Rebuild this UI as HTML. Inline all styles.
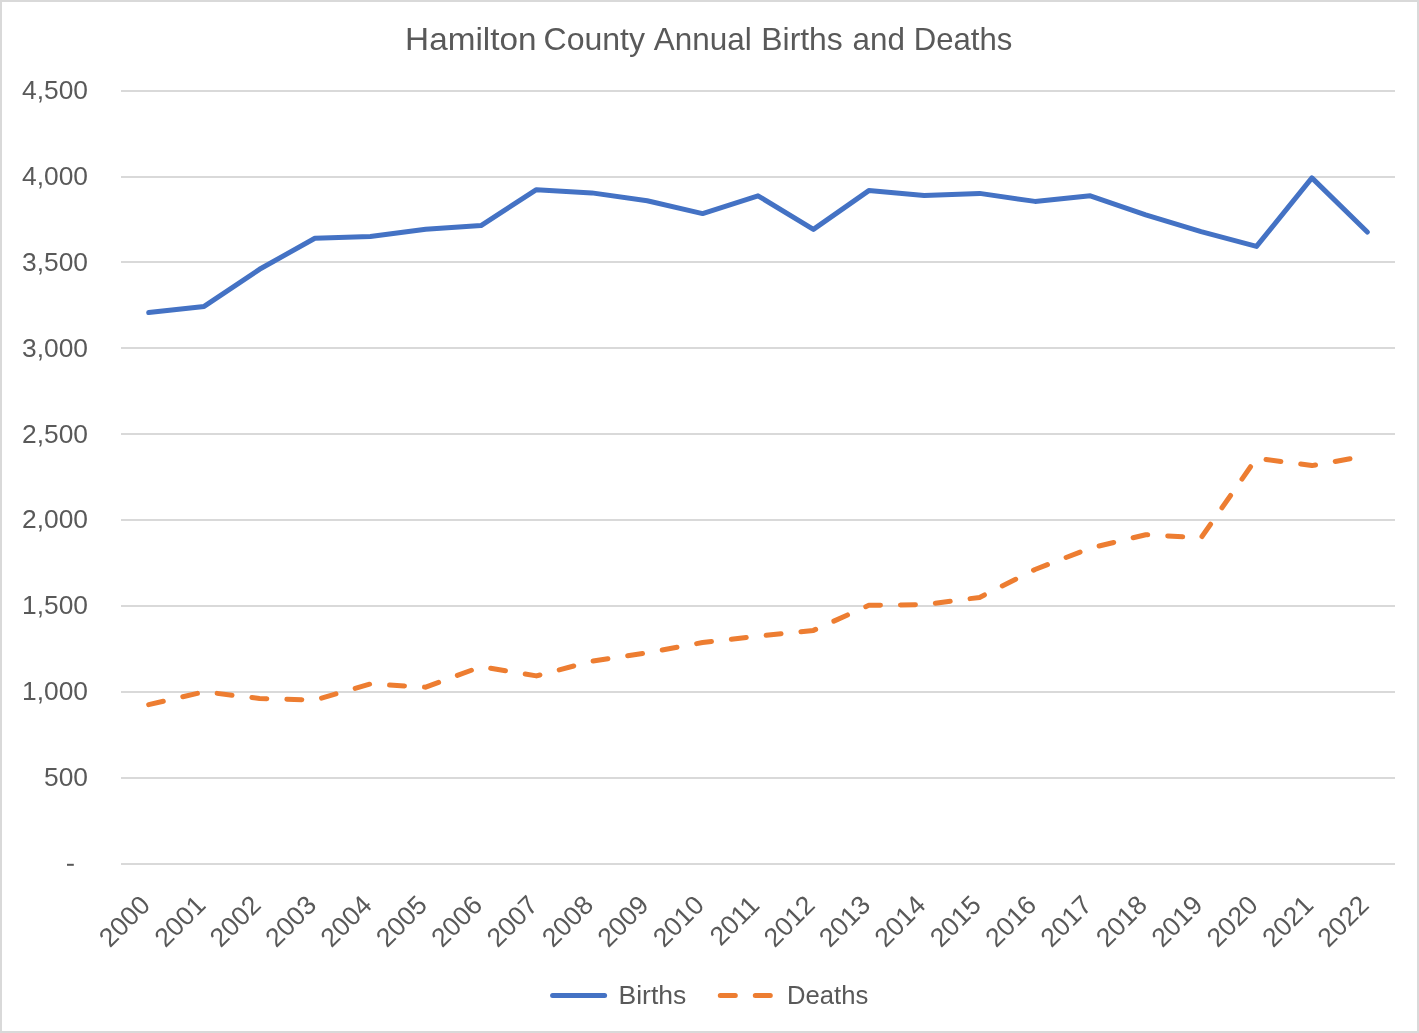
<!DOCTYPE html>
<html><head><meta charset="utf-8"><title>Hamilton County Annual Births and Deaths</title>
<style>
html,body{margin:0;padding:0;background:#fff;}
body{width:1419px;height:1033px;overflow:hidden;font-family:"Liberation Sans",sans-serif;}
svg{display:block;position:absolute;left:0;top:0;opacity:0.999;will-change:transform;}
text{font-family:"Liberation Sans",sans-serif;fill:#595959;}
</style></head><body>
<svg width="1419" height="1033" viewBox="0 0 1419 1033">
<rect x="0" y="0" width="1419" height="1033" fill="#ffffff"/>
<rect x="1" y="1" width="1417" height="1031" fill="none" stroke="#d9d9d9" stroke-width="2"/>
<g fill="#d9d9d9">
<rect x="121" y="863" width="1274" height="2"/>
<rect x="121" y="777" width="1274" height="2"/>
<rect x="121" y="691" width="1274" height="2"/>
<rect x="121" y="605" width="1274" height="2"/>
<rect x="121" y="519" width="1274" height="2"/>
<rect x="121" y="433" width="1274" height="2"/>
<rect x="121" y="347" width="1274" height="2"/>
<rect x="121" y="261" width="1274" height="2"/>
<rect x="121" y="176" width="1274" height="2"/>
<rect x="121" y="90" width="1274" height="2"/>
</g>
<g font-size="26" text-anchor="end">
<rect x="67" y="863.8" width="6.8" height="2" fill="#595959"/>
<text x="88" y="786.10" textLength="43.99" lengthAdjust="spacingAndGlyphs">500</text>
<text x="88" y="700.10" textLength="65.98" lengthAdjust="spacingAndGlyphs">1,000</text>
<text x="88" y="614.10" textLength="65.98" lengthAdjust="spacingAndGlyphs">1,500</text>
<text x="88" y="528.10" textLength="65.98" lengthAdjust="spacingAndGlyphs">2,000</text>
<text x="88" y="443.10" textLength="65.98" lengthAdjust="spacingAndGlyphs">2,500</text>
<text x="88" y="357.10" textLength="65.98" lengthAdjust="spacingAndGlyphs">3,000</text>
<text x="88" y="271.10" textLength="65.98" lengthAdjust="spacingAndGlyphs">3,500</text>
<text x="88" y="185.10" textLength="65.98" lengthAdjust="spacingAndGlyphs">4,000</text>
<text x="88" y="99.10" textLength="65.98" lengthAdjust="spacingAndGlyphs">4,500</text>
</g>
<g font-size="26.5" text-anchor="end">
<text transform="translate(151.7,906.7) rotate(-45)">2000</text>
<text transform="translate(207.1,906.7) rotate(-45)">2001</text>
<text transform="translate(262.5,906.7) rotate(-45)">2002</text>
<text transform="translate(317.9,906.7) rotate(-45)">2003</text>
<text transform="translate(373.3,906.7) rotate(-45)">2004</text>
<text transform="translate(428.7,906.7) rotate(-45)">2005</text>
<text transform="translate(484.0,906.7) rotate(-45)">2006</text>
<text transform="translate(539.4,906.7) rotate(-45)">2007</text>
<text transform="translate(594.8,906.7) rotate(-45)">2008</text>
<text transform="translate(650.2,906.7) rotate(-45)">2009</text>
<text transform="translate(705.6,906.7) rotate(-45)">2010</text>
<text transform="translate(761.0,906.7) rotate(-45)">2011</text>
<text transform="translate(816.4,906.7) rotate(-45)">2012</text>
<text transform="translate(871.8,906.7) rotate(-45)">2013</text>
<text transform="translate(927.2,906.7) rotate(-45)">2014</text>
<text transform="translate(982.6,906.7) rotate(-45)">2015</text>
<text transform="translate(1038.0,906.7) rotate(-45)">2016</text>
<text transform="translate(1093.3,906.7) rotate(-45)">2017</text>
<text transform="translate(1148.7,906.7) rotate(-45)">2018</text>
<text transform="translate(1204.1,906.7) rotate(-45)">2019</text>
<text transform="translate(1259.5,906.7) rotate(-45)">2020</text>
<text transform="translate(1314.9,906.7) rotate(-45)">2021</text>
<text transform="translate(1370.3,906.7) rotate(-45)">2022</text>
</g>
<g font-size="31.2">
<text x="405.1" y="49.5" textLength="131.4" lengthAdjust="spacingAndGlyphs">Hamilton</text>
<text x="543.5" y="49.5" textLength="101.5" lengthAdjust="spacingAndGlyphs">County</text>
<text x="653.8" y="49.5" textLength="98.0" lengthAdjust="spacingAndGlyphs">Annual</text>
<text x="761.3" y="49.5" textLength="81.5" lengthAdjust="spacingAndGlyphs">Births</text>
<text x="852.6" y="49.5" textLength="52.4" lengthAdjust="spacingAndGlyphs">and</text>
<text x="913.7" y="49.5" textLength="98.6" lengthAdjust="spacingAndGlyphs">Deaths</text>
</g>
<polyline points="148.7,312.6 204.1,306.4 259.5,269.3 314.9,238.2 370.3,236.5 425.7,229.3 481.0,225.6 536.4,189.7 591.8,192.9 647.2,200.8 702.6,213.6 758.0,195.8 813.4,229.4 868.8,190.6 924.2,195.6 979.6,193.4 1035.0,201.4 1090.3,195.8 1145.7,214.8 1201.1,231.6 1256.5,246.4 1311.9,177.9 1367.3,232.0" fill="none" stroke="#4472c4" stroke-width="5" stroke-linecap="round" stroke-linejoin="round"/>
<polyline points="148.7,704.6 204.1,691.8 259.5,698.5 314.9,700.0 370.3,684.0 425.7,687.2 481.0,666.7 536.4,675.9 591.8,661.2 647.2,652.8 702.6,642.5 758.0,636.2 813.4,630.4 868.8,605.3 924.2,604.6 979.6,597.4 1035.0,569.5 1090.3,548.1 1145.7,534.7 1201.1,537.8 1256.5,458.2 1311.9,465.6 1367.3,455.7" fill="none" stroke="#ed7d31" stroke-width="5" stroke-linecap="round" stroke-linejoin="round" stroke-dasharray="15 20"/>
<line x1="552.6" y1="995.4" x2="604.6" y2="995.4" stroke="#4472c4" stroke-width="5" stroke-linecap="round"/>
<line x1="720.3" y1="995.4" x2="772.3" y2="995.4" stroke="#ed7d31" stroke-width="5" stroke-linecap="round" stroke-dasharray="15 20"/>
<g font-size="25.6">
<text x="618.5" y="1003.5" textLength="67.8" lengthAdjust="spacingAndGlyphs">Births</text>
<text x="787" y="1003.5" textLength="81.2" lengthAdjust="spacingAndGlyphs">Deaths</text>
</g>
</svg></body></html>
